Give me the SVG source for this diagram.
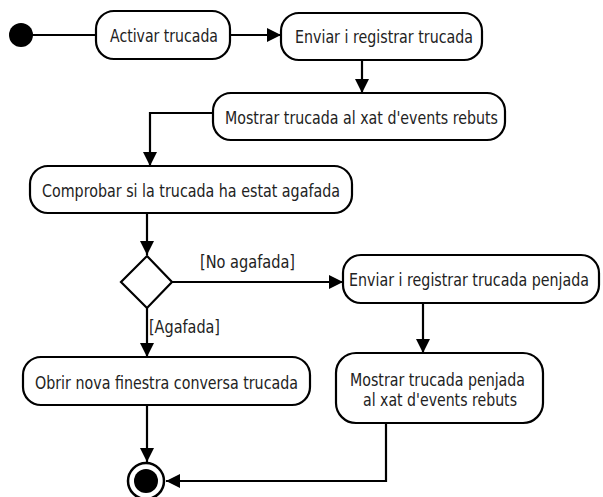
<svg xmlns="http://www.w3.org/2000/svg" width="603" height="497" viewBox="0 0 603 497">
  <style>
    .act { fill: #fff; stroke: #000; stroke-width: 2.2; }
    .lbl { font-family: "DejaVu Sans", "Liberation Sans", sans-serif; font-size: 17.5px; fill: #222; text-anchor: middle; }
    .guard { font-family: "DejaVu Sans", "Liberation Sans", sans-serif; font-size: 17.5px; fill: #222; }
    .edge { fill: none; stroke: #000; stroke-width: 2.2; }
  </style>
  <defs>
    <marker id="arrow" markerUnits="userSpaceOnUse" markerWidth="15" markerHeight="14" refX="14" refY="7" orient="auto">
      <path d="M0,0 L14,7 L0,14 z" fill="#000"/>
    </marker>
  </defs>
  <rect width="603" height="497" fill="#fff"/>

  <!-- connectors -->
  <g id="connectors">
    <line class="edge" x1="30" y1="35" x2="96" y2="35"/>
    <line class="edge" x1="230" y1="35" x2="281" y2="35" marker-end="url(#arrow)"/>
    <line class="edge" x1="362" y1="60" x2="362" y2="93" marker-end="url(#arrow)"/>
    <polyline class="edge" points="213,113 150,113 150,166" marker-end="url(#arrow)"/>
    <line class="edge" x1="147" y1="213" x2="147" y2="255" marker-end="url(#arrow)"/>
    <line class="edge" x1="172" y1="282" x2="343" y2="282" marker-end="url(#arrow)"/>
    <text class="guard" x="247.5" y="268" text-anchor="middle" textLength="95" lengthAdjust="spacingAndGlyphs">[No agafada]</text>
    <line class="edge" x1="147" y1="308" x2="147" y2="357" marker-end="url(#arrow)"/>
    <text class="guard" x="149" y="333" textLength="71" lengthAdjust="spacingAndGlyphs">[Agafada]</text>
    <line class="edge" x1="423" y1="303" x2="423" y2="353" marker-end="url(#arrow)"/>
    <line class="edge" x1="147" y1="405" x2="147" y2="462" marker-end="url(#arrow)"/>
    <polyline class="edge" points="386,423 386,481 166,481" marker-end="url(#arrow)"/>
  </g>

  <!-- initial node -->
  <g id="start">
    <circle cx="21" cy="35" r="12" fill="#000"/>
  </g>

  <g id="activar">
    <rect class="act" x="96" y="11" width="134" height="48" rx="18"/>
    <text class="lbl" x="164" y="42" textLength="108" lengthAdjust="spacingAndGlyphs">Activar trucada</text>
  </g>

  <g id="enviar">
    <rect class="act" x="281" y="13" width="201" height="47" rx="18"/>
    <text class="lbl" x="384" y="43" textLength="178" lengthAdjust="spacingAndGlyphs">Enviar i registrar trucada</text>
  </g>

  <g id="mostrar">
    <rect class="act" x="213" y="93" width="292" height="47" rx="18"/>
    <text class="lbl" x="361.5" y="124" textLength="273" lengthAdjust="spacingAndGlyphs">Mostrar trucada al xat d'events rebuts</text>
  </g>

  <g id="comprobar">
    <rect class="act" x="30" y="166" width="322" height="47" rx="18"/>
    <text class="lbl" x="191" y="197" textLength="298" lengthAdjust="spacingAndGlyphs">Comprobar si la trucada ha estat agafada</text>
  </g>

  <!-- decision -->
  <g id="decision">
    <polygon class="act" points="147,256 172,282 147,308 121,282"/>
  </g>

  <g id="penjada">
    <rect class="act" x="343" y="255" width="256" height="48" rx="18"/>
    <!-- long label: narrowed horizontally so it stays inside the box -->
    <text class="lbl" transform="translate(469,286) scale(0.75,1)" x="0" y="0" textLength="320" lengthAdjust="spacingAndGlyphs">Enviar i registrar trucada penjada</text>
  </g>

  <g id="obrir">
    <rect class="act" x="23" y="357" width="287" height="48" rx="18"/>
    <text class="lbl" x="166.5" y="389" textLength="263" lengthAdjust="spacingAndGlyphs">Obrir nova finestra conversa trucada</text>
  </g>

  <g id="mostrar-penjada">
    <rect class="act" x="336" y="353" width="207" height="70" rx="20"/>
    <text class="lbl" x="437.5" y="386" textLength="175" lengthAdjust="spacingAndGlyphs">Mostrar trucada penjada</text>
    <text class="lbl" x="440" y="406" textLength="154" lengthAdjust="spacingAndGlyphs">al xat d'events rebuts</text>
  </g>

  <!-- final node -->
  <g id="final">
    <circle cx="146" cy="481" r="18" fill="#fff" stroke="#000" stroke-width="2.5"/>
    <circle cx="146" cy="481" r="12" fill="#000"/>
  </g>
</svg>
